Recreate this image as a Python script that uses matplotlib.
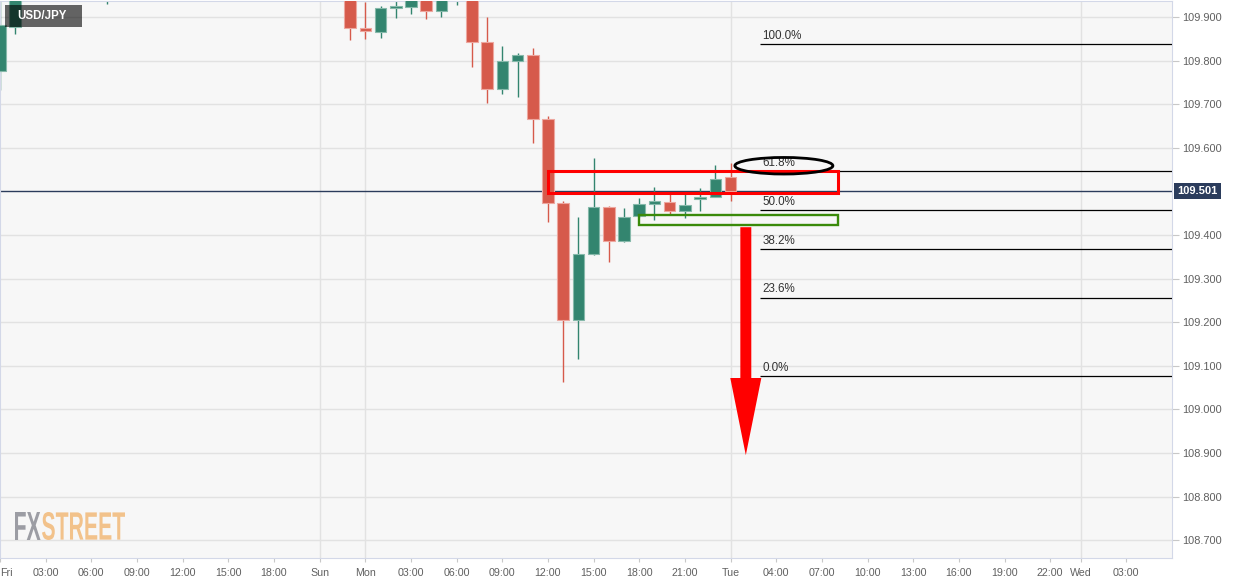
import matplotlib
matplotlib.use("Agg")
import matplotlib.pyplot as plt
from matplotlib.patches import Rectangle, Ellipse, FancyArrow, PathPatch
from matplotlib.textpath import TextPath
from matplotlib.font_manager import FontProperties
from matplotlib.transforms import Affine2D, IdentityTransform

# hourly USD/JPY candles; x is the hour index on the gap-less session axis (Fri 00:00 = 0)
hours = list(range(49))
opens = [109.776, 109.877, 109.965, 109.990, 109.960, 109.985, 110.015, 109.995, 110.010, 110.030,
         110.020, 110.000, 110.015, 110.030, 110.020, 110.010, 110.015, 110.020, 110.010, 110.005,
         110.000, 110.005, 109.985, 109.975, 109.875, 109.866, 109.921, 109.923, 109.960, 109.914,
         109.955, 109.965, 109.842, 109.735, 109.799, 109.813, 109.666, 109.473, 109.204, 109.356,
         109.464, 109.386, 109.443, 109.471, 109.476, 109.455, 109.483, 109.487, 109.533]
highs = [109.960, 109.990, 110.010, 110.020, 110.000, 110.030, 110.040, 110.030, 110.050, 110.060,
         110.040, 110.030, 110.045, 110.055, 110.040, 110.030, 110.035, 110.030, 110.025, 110.020,
         110.015, 110.020, 110.000, 109.985, 109.934, 109.925, 109.945, 109.975, 109.985, 109.970,
         109.990, 109.980, 109.900, 109.833, 109.817, 109.829, 109.673, 109.478, 109.441, 109.577,
         109.466, 109.462, 109.485, 109.510, 109.496, 109.496, 109.508, 109.561, 109.565]
lows = [109.733, 109.861, 109.950, 109.937, 109.948, 109.965, 109.975, 109.930, 109.990, 110.000,
        109.985, 109.975, 109.995, 110.005, 110.000, 109.990, 110.000, 110.005, 109.995, 109.990,
        109.990, 109.970, 109.960, 109.847, 109.850, 109.852, 109.898, 109.907, 109.895, 109.900,
        109.928, 109.786, 109.703, 109.723, 109.717, 109.611, 109.430, 109.063, 109.116, 109.354,
        109.338, 109.385, 109.442, 109.434, 109.448, 109.439, 109.455, 109.487, 109.479]
closes = [109.882, 109.965, 109.990, 109.960, 109.985, 110.015, 109.995, 110.010, 110.030, 110.020,
          110.000, 110.015, 110.030, 110.020, 110.010, 110.015, 110.020, 110.010, 110.005, 110.000,
          110.005, 109.985, 109.975, 109.875, 109.868, 109.921, 109.923, 109.960, 109.915, 109.955,
          109.965, 109.842, 109.735, 109.799, 109.813, 109.666, 109.473, 109.205, 109.356, 109.464,
          109.386, 109.441, 109.471, 109.478, 109.455, 109.469, 109.485, 109.528, 109.501]

last_price = 109.501

tick_pos = [0, 3, 6, 9, 12, 15, 18, 21, 24, 27, 30, 33, 36, 39, 42, 45, 48,
            51, 54, 57, 60, 63, 66, 69, 71, 74]
tick_labels = ["Fri", "03:00", "06:00", "09:00", "12:00", "15:00", "18:00", "Sun", "Mon",
               "03:00", "06:00", "09:00", "12:00", "15:00", "18:00", "21:00", "Tue",
               "04:00", "07:00", "10:00", "13:00", "16:00", "19:00", "22:00", "Wed", "03:00"]
day_lines = [21, 24, 48, 71]
price_ticks = [108.7, 108.8, 108.9, 109.0, 109.1, 109.2, 109.3, 109.4, 109.6, 109.7, 109.8, 109.9]

# fibonacci retracement of the 109.838 -> 109.077 drop
fib_high = 109.838
fib_low = 109.077
fib_ratios = [1.0, 0.618, 0.5, 0.382, 0.236, 0.0]
fib_names = ["100.0%", "61.8%", "50.0%", "38.2%", "23.6%", "0.0%"]

UP = "#33856f"
DOWN = "#d65a4b"
UP_EDGE = "#86b9aa"
DOWN_EDGE = "#eda79f"
SANS = ["Liberation Sans", "DejaVu Sans"]

fig = plt.figure(figsize=(12.43, 5.84), dpi=100)
fig.patch.set_facecolor("white")
ax = fig.add_axes([0, 1 - 558 / 584, 1172 / 1243, 557 / 584])
ax.set_facecolor("#f7f7f7")
ax.set_xlim(0, 77)
ax.set_ylim(108.659, 109.937)

# grid
for p in price_ticks:
    ax.axhline(p, color="#e2e2e2", lw=1, zorder=0)
for d in day_lines:
    ax.axvline(d, color="#e2e2e2", lw=1, zorder=0)

# current price line
ax.axhline(last_price, color="#2b3c5c", lw=1, zorder=1)

# candles
colors = [UP if c >= o else DOWN for o, c in zip(opens, closes)]
edges = [UP_EDGE if c >= o else DOWN_EDGE for o, c in zip(opens, closes)]
ax.vlines(hours, lows, highs, colors=colors, lw=1, zorder=2)
bottoms = [min(o, c) for o, c in zip(opens, closes)]
heights = [max(abs(c - o), 0.005) for o, c in zip(opens, closes)]
ax.bar(hours, heights, bottom=bottoms, width=0.76, color=colors, edgecolor=edges,
       linewidth=0.8, zorder=3)

# fib levels
fib_start = 49.93
for r, name in zip(fib_ratios, fib_names):
    lvl = fib_low + r * (fib_high - fib_low)
    ax.hlines(lvl, fib_start, 77, color="black", lw=0.9, zorder=4)
    ax.annotate(name, (fib_start + 0.15, lvl), xytext=(0, 1.5), textcoords="offset points",
                va="bottom", ha="left", fontsize=8.4, color="#333333", family=SANS, zorder=4)

# drawings
ax.add_patch(Rectangle((36.0, 109.497), 19.05, 0.050, fill=False, ec="#ff0000", lw=2.2, zorder=6))
ax.add_patch(Rectangle((42.0, 109.424), 13.06, 0.022, fill=False, ec="#3a8a0a", lw=1.7, zorder=6))
ax.add_patch(Ellipse((51.5, 109.559), 6.44, 0.038, fill=False, ec="black", lw=2.0, zorder=6))
ax.add_patch(FancyArrow(49.0, 109.418, 0, 108.895 - 109.418, width=0.72, head_width=2.04,
                        head_length=0.177, length_includes_head=True, color="#ff0000",
                        lw=0, zorder=6))

# axes styling
for s in ax.spines.values():
    s.set_color("#d3d8e8")
ax.yaxis.tick_right()
ax.set_yticks(price_ticks)
ax.set_yticklabels([f"{p:.3f}" for p in price_ticks])
ax.set_xticks(tick_pos)
ax.set_xticklabels(tick_labels)
ax.get_xticklabels()[0].set_horizontalalignment("left")
ax.tick_params(axis="y", length=5, width=0.8, color="#c8c8c8", pad=2, labelsize=7.9,
               labelcolor="#606060")
ax.tick_params(axis="x", length=3, width=0.8, color="#c8c8c8", pad=4, labelsize=7.7,
               labelcolor="#606060")
for lab in ax.get_xticklabels() + ax.get_yticklabels():
    lab.set_family(SANS)

# last price tag
ax.text(1.0045, last_price, "109.501", transform=ax.get_yaxis_transform(), va="center",
        ha="left", fontsize=8, fontweight="bold", color="white", family=SANS,
        bbox=dict(boxstyle="square,pad=0.3", fc="#2b3c5c", ec="none"), clip_on=False)

# symbol badge
fig.patches.append(Rectangle((5 / 1243, 1 - 27 / 584), 77 / 1243, 22 / 584, transform=fig.transFigure,
                             fc="black", alpha=0.6, ec="none", zorder=10))
fig.text(42 / 1243, 1 - 16 / 584, "USD/JPY", ha="center", va="center", fontsize=8.3,
         fontweight="bold", color="white", family=SANS, zorder=11)

# FXSTREET watermark, squeezed into a condensed shape
wm_font = FontProperties(family=SANS, weight="bold")
words = [("FX", "#9c9da4"), ("STREET", "#f2c28b")]
paths = [TextPath((0, 0), w, size=39, prop=wm_font) for w, _ in words]
gap = 1.5
sx = (110 - gap) / sum(p.get_extents().width for p in paths)
x0 = 15
for tp, (_, col) in zip(paths, words):
    ext = tp.get_extents()
    sy = 28 / ext.height
    tr = Affine2D().translate(-ext.x0, -ext.y0).scale(sx, sy).translate(x0, 584 - 540)
    fig.patches.append(PathPatch(tr.transform_path(tp), fc=col, ec="none",
                                 transform=IdentityTransform(), zorder=5))
    x0 += ext.width * sx + gap

fig.savefig("out.png", dpi=100)
